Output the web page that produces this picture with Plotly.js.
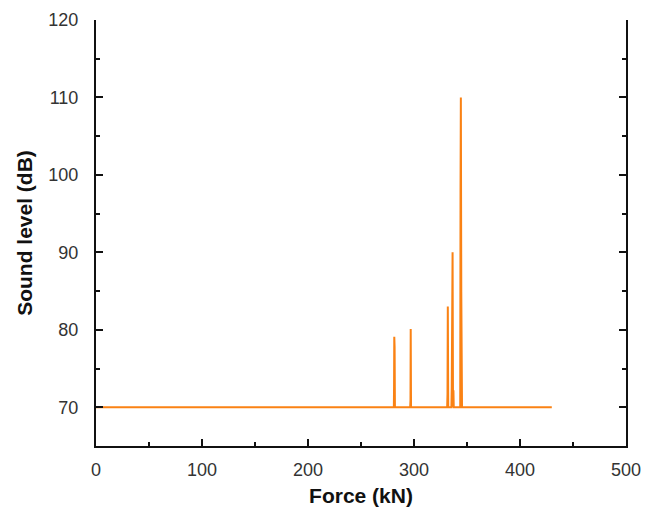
<!DOCTYPE html>
<html>
<head>
<meta charset="utf-8">
<script src="https://cdn.plot.ly/plotly-3.0.1.min.js"></script>
<style>html,body{margin:0;padding:0;background:#fff;}#chart{width:658px;height:510px;}</style>
</head>
<body>
<div id="chart"></div>
<script>
// Force (kN) and sound level (dB)
const force = [0, 281.0, 281.2, 281.4, 281.7, 282.0, 282.3,
  296.4, 296.7, 296.9, 297.2, 297.5,
  331.3, 331.6, 331.9, 332.3, 332.6,
  335.3, 335.6, 336.0, 336.4, 336.8, 337.2, 337.5, 337.9,
  343.6, 343.9, 344.2, 344.6, 345.0, 345.3, 430];
const soundLevel = [70, 70, 72.7, 79.1, 77.8, 70, 70,
  70, 71.0, 80.1, 70, 70,
  70, 71.7, 83.0, 70, 70,
  70, 72.5, 87.9, 90.0, 70, 72.2, 70, 70,
  70, 97.8, 110.0, 84.9, 70, 70, 70];
const xTicks = [0, 100, 200, 300, 400, 500];
const yTicks = [70, 80, 90, 100, 110, 120];

const trace = {
  x: force, y: soundLevel, type: 'scatter', mode: 'lines',
  line: {color: '#FA8214', width: 2}, hoverinfo: 'skip'
};
const axisFont = {family: 'Liberation Sans, Arial, sans-serif', size: 18, color: '#333'};
const titleFont = {family: 'Liberation Sans, Arial, sans-serif', size: 21, color: '#111', weight: 'bold'};
const layout = {
  width: 658, height: 510,
  margin: {l: 96, r: 32, t: 20, b: 64},
  paper_bgcolor: '#fff', plot_bgcolor: '#fff',
  showlegend: false,
  xaxis: {
    range: [0, 500], tickvals: xTicks, ticktext: xTicks.map(String),
    showgrid: false, zeroline: false,
    showline: true, linecolor: '#111', linewidth: 2, mirror: false,
    ticks: 'inside', ticklen: 7, tickwidth: 2, tickcolor: '#111',
    minor: {dtick: 50, tick0: 0, ticks: 'inside', ticklen: 4, tickwidth: 2, tickcolor: '#111', showgrid: false},
    tickfont: axisFont, ticklabelstandoff: 6,
    title: {text: 'Force (kN)', font: titleFont, standoff: 10}
  },
  yaxis: {
    range: [65, 120], tickvals: yTicks, ticktext: yTicks.map(String),
    showgrid: false, zeroline: false,
    showline: true, linecolor: '#111', linewidth: 2, mirror: 'allticks',
    ticks: 'inside', ticklen: 7, tickwidth: 2, tickcolor: '#111',
    minor: {dtick: 5, tick0: 0, ticks: 'inside', ticklen: 4, tickwidth: 2, tickcolor: '#111', showgrid: false},
    tickfont: axisFont, ticklabelstandoff: 12,
    title: {text: 'Sound level (dB)', font: titleFont, standoff: 10}
  }
};
Plotly.newPlot('chart', [trace], layout, {staticPlot: true, displayModeBar: false});
</script>
</body>
</html>
